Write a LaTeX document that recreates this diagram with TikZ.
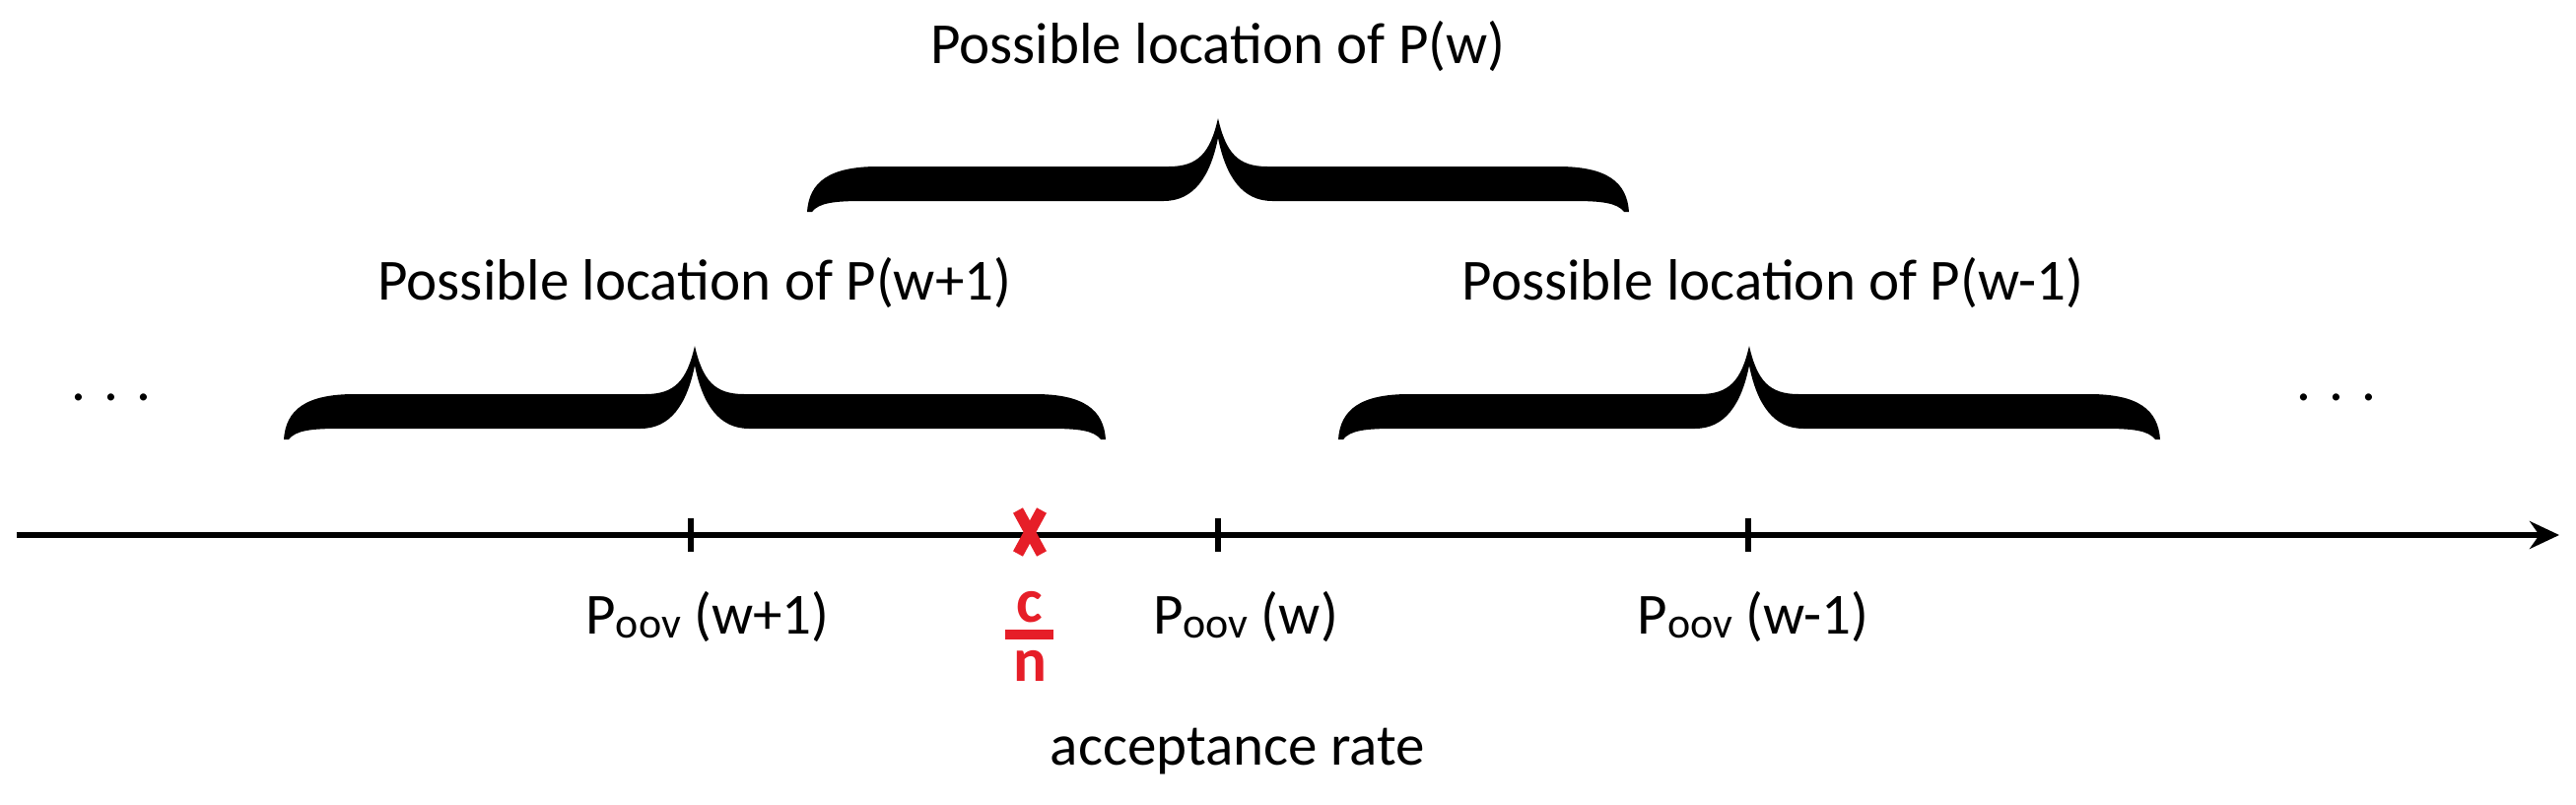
\documentclass[tikz,border=0pt]{standalone}
\usepackage{fontspec}
\setmainfont{Carlito}
\usetikzlibrary{arrows.meta,calc}
\newcommand\bigbrace[2]{%
\begin{scope}[shift={(#1,#2)}]
\fill (0,0) .. controls (0.08,-0.35) and (0.2,-0.49) .. (0.5,-0.49) -- (3.45,-0.49)
 .. controls (3.95,-0.49) and (4.15,-0.65) .. (4.17,-0.95) -- (4.12,-0.95)
 .. controls (4.05,-0.86) and (3.9,-0.84) .. (3.6,-0.84) -- (0.55,-0.84)
 .. controls (0.25,-0.84) and (0.08,-0.6) .. (0,-0.2)
 .. controls (-0.08,-0.6) and (-0.25,-0.84) .. (-0.55,-0.84) -- (-3.6,-0.84)
 .. controls (-3.9,-0.84) and (-4.05,-0.86) .. (-4.12,-0.95) -- (-4.17,-0.95)
 .. controls (-4.15,-0.65) and (-3.95,-0.49) .. (-3.45,-0.49) -- (-0.5,-0.49)
 .. controls (-0.2,-0.49) and (-0.08,-0.35) .. (0,0) -- cycle;
\end{scope}}
\begin{document}
\begin{tikzpicture}[txt/.style={font=\fontsize{16.8}{19}\selectfont, inner sep=0pt},
  tick/.style={line width=1.6pt}]
\useasboundingbox (0,0) rectangle (26.14,8.16);
\definecolor{xred}{RGB}{230,30,40}
\coordinate (a0) at (0.17,2.73);
\coordinate (a1) at (25.97,2.73);
\draw[line width=1.5pt,-{Stealth[length=0.3cm,width=0.28cm]}] (a0) -- (a1);
\foreach \n/\x in {t1/7.01,t2/12.36,t3/17.74}{
  \coordinate (\n) at (\x,2.73);
  \draw[tick] ($(\n)+(0,0.17)$) -- ($(\n)+(0,-0.17)$);
}
\node[txt] (l1) at (7.18,1.90) {P\raisebox{-0.15ex}{\fontsize{12.5}{12}\selectfont oov} (w+1)};
\node[txt] (l2) at (12.64,1.90) {P\raisebox{-0.15ex}{\fontsize{12.5}{12}\selectfont oov} (w)};
\node[txt] (l3) at (17.79,1.90) {P\raisebox{-0.15ex}{\fontsize{12.5}{12}\selectfont oov} (w-1)};
\coordinate (xm) at (10.45,2.76);
\draw[xred,line width=3.2pt] ($(xm)+(-0.12,0.22)$) -- ($(xm)+(0.12,-0.22)$)
  ($(xm)+(0.12,0.22)$) -- ($(xm)+(-0.12,-0.22)$);
\node[txt,text=xred,font=\fontsize{18}{19}\selectfont\bfseries] (c) at (10.45,2.0) {c};
\draw[xred,line width=3pt] (10.20,1.72) -- (10.69,1.72);
\node[txt,text=xred,font=\fontsize{18}{19}\selectfont\bfseries] (n) at (10.45,1.40) {n};
\node[txt] (acc) at (12.56,0.53) {acceptance rate};
\bigbrace{12.36}{6.96}
\bigbrace{7.05}{4.65}
\bigbrace{17.75}{4.65}
\node[txt] (p0) at (12.36,7.69) {Possible location of P(w)};
\node[txt] (p1) at (7.05,5.29) {Possible location of P(w+1)};
\node[txt] (p2) at (17.99,5.29) {Possible location of P(w-1)};
\node[txt] (d1) at (1.13,4.13) {. . .};
\node[txt] (d2) at (23.71,4.13) {. . .};
\end{tikzpicture}
\end{document}
